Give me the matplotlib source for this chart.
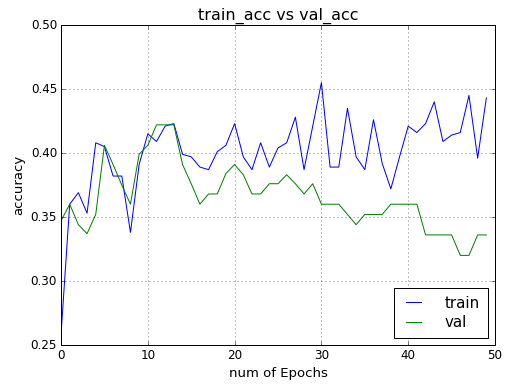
import matplotlib
matplotlib.use("Agg")
import matplotlib.pyplot as plt

epochs = list(range(50))
train_acc = [0.258, 0.360, 0.369, 0.353, 0.408, 0.405, 0.382, 0.382, 0.338, 0.391,
             0.415, 0.409, 0.421, 0.423, 0.399, 0.397, 0.389, 0.387, 0.401, 0.406,
             0.423, 0.397, 0.387, 0.408, 0.389, 0.404, 0.408, 0.428, 0.387, 0.421,
             0.455, 0.389, 0.389, 0.435, 0.397, 0.387, 0.426, 0.392, 0.372, 0.397,
             0.421, 0.416, 0.423, 0.440, 0.409, 0.414, 0.416, 0.445, 0.396, 0.443]
val_acc = [0.347, 0.360, 0.344, 0.337, 0.352, 0.406, 0.391, 0.375, 0.360, 0.399,
           0.406, 0.422, 0.422, 0.422, 0.391, 0.376, 0.360, 0.368, 0.368, 0.384,
           0.391, 0.383, 0.368, 0.368, 0.376, 0.376, 0.383, 0.376, 0.368, 0.376,
           0.360, 0.360, 0.360, 0.352, 0.344, 0.352, 0.352, 0.352, 0.360, 0.360,
           0.360, 0.360, 0.336, 0.336, 0.336, 0.336, 0.320, 0.320, 0.336, 0.336]

plt.style.use("classic")
# the reference looks like it was rendered at 72 dpi
fig = plt.figure(figsize=(511 / 72, 389 / 72), dpi=72)
ax = fig.add_subplot(111)
ax.plot(epochs, train_acc, label="train")
ax.plot(epochs, val_acc, label="val")
ax.set_title("train_acc vs val_acc", fontsize=16)
ax.set_xlabel("num of Epochs", fontsize=13.3)
ax.set_ylabel("accuracy", fontsize=13.3)
ax.set_ylim(0.25, 0.5)
ax.tick_params(labelsize=12)
ax.grid(True)
ax.legend(loc="lower right", fontsize=15, handlelength=1.6, handletextpad=1.3,
          borderpad=0.5, labelspacing=0.3)
fig.subplots_adjust(left=0.1194, right=0.9687, top=0.9357, bottom=0.1131)
fig.savefig("out.png", dpi=72)
